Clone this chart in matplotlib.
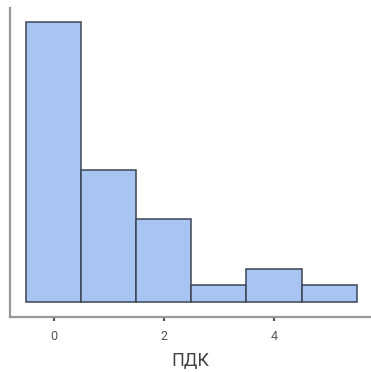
import matplotlib
matplotlib.use("Agg")
import matplotlib.pyplot as plt
import numpy as np

plt.rcParams['font.family'] = ['Roboto', 'DejaVu Sans']

# histogram of ПДК values, unit-wide bins centred on integers
bin_centers = [0, 1, 2, 3, 4, 5]
counts = [17, 8, 5, 1, 2, 1]
xticks = [0, 2, 4]
xlabel = "ПДК"

fig = plt.figure(figsize=(3.71, 3.72), dpi=100)
ax = fig.add_axes([10 / 371, 1 - 317 / 372, 1 - 10 / 371, 309 / 372])

ax.bar(bin_centers, counts, width=1.0, align='center',
       color='#a7c4f2', edgecolor='#3b4654', linewidth=1.1)

ax.set_xlim(-0.79, 5.76)
ax.set_ylim(-0.91, 17.82)
ax.set_xticks(xticks)
ax.set_yticks([])
ax.set_xlabel(xlabel, fontsize=13, color='#444444', labelpad=7)

for side in ('top', 'right'):
    ax.spines[side].set_visible(False)
for side in ('left', 'bottom'):
    ax.spines[side].set_color('#999999')
    ax.spines[side].set_linewidth(1.6)

ax.tick_params(axis='x', length=3, width=1.6, color='#555555',
               labelsize=9, labelcolor='#555555', pad=6)

fig.savefig("out.png", dpi=100)
